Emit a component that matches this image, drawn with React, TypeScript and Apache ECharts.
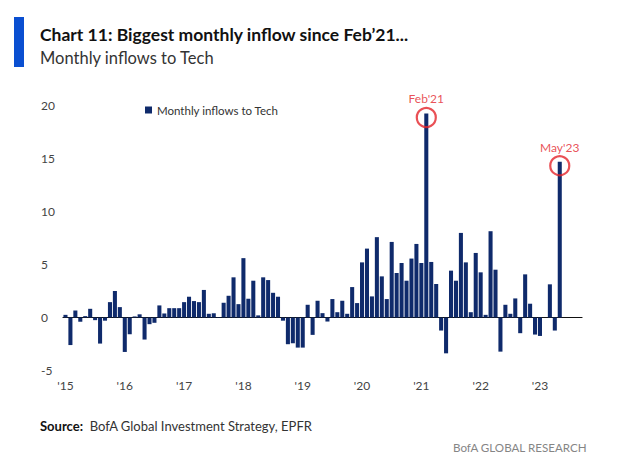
import React, { useEffect, useRef } from 'react';
import * as echarts from 'echarts';

// Monthly inflows to Tech ($bn), Jan 2015 - May 2023
const flows2015 = [0.25, -2.6, 0.66, -0.4, 0.13, 0.82, -0.25, -2.46, -0.3, 1.45, 2.5, 0.98];
const flows2016 = [-3.25, -1.58, 0.1, 0.3, -2.08, -0.63, -0.5, 1.14, 0.38, 0.88, 0.88, 0.88];
const flows2017 = [1.45, 1.96, 1.55, 1.45, 2.6, 0.35, 0.4, 0.05, 1.39, 2.05, 3.79, 1.26];
const flows2018 = [5.6, 1.77, 3.47, 0.2, 3.79, 3.53, 2.33, 1.96, -0.3, -2.52, -2.43, -2.84];
const flows2019 = [-2.84, 1.2, -1.64, 1.58, 0.41, -0.38, 1.74, 0.5, 1.58, 0.35, 2.87, 1.36];
const flows2020 = [5.2, 6.5, 1.99, 7.58, 3.88, 1.74, 7.13, 4.2, 5.14, 3.47, 5.56, 6.94];
const flows2021 = [5.14, 19.25, 5.24, 3.16, -1.23, -3.38, 4.42, 3.47, 7.98, 5.2, 0.5, 6.09];
const flows2022 = [4.26, 0.25, 8.14, 4.51, -3.22, 1.2, 0.35, 1.8, -1.48, 4.07, 1.3, -1.61];
const flows2023 = [-1.74, 0, 3.13, -1.23, 14.7];

const years = [2015, 2016, 2017, 2018, 2019, 2020, 2021, 2022, 2023];
const flows = [
  ...flows2015, ...flows2016, ...flows2017, ...flows2018, ...flows2019,
  ...flows2020, ...flows2021, ...flows2022, ...flows2023,
];

// axis runs on to Sep 2023
const months: string[] = [];
years.forEach((y) => {
  for (let m = 1; m <= 12; m++) {
    if (y === 2023 && m > 9) break;
    months.push(`${y}-${String(m).padStart(2, '0')}`);
  }
});

const highlights = [
  { month: '2021-02', label: "Feb'21" },
  { month: '2023-05', label: "May'23" },
];

const yTicks = { min: -5, max: 20, interval: 5 };

const NAVY = '#0f2a6b';
const RED = '#e3242b';
const FONT = 'Lato, "Open Sans", sans-serif';

const App: React.FC = () => {
  const chartRef = useRef<HTMLDivElement>(null);

  useEffect(() => {
    if (!chartRef.current) return;
    const chart = echarts.init(chartRef.current, null, { renderer: 'svg' });

    const barData = months.map((m, i) => (i < flows.length ? flows[i] : '-'));
    const circleData = highlights.map((h) => {
      const idx = months.indexOf(h.month);
      return { value: [h.month, flows[idx]], name: h.label };
    });

    chart.setOption({
      animation: false,
      textStyle: { fontFamily: FONT },
      title: [
        {
          text: 'Chart 11: Biggest monthly inflow since Feb’21...',
          left: 35,
          top: 20,
          textStyle: { fontSize: 17.5, fontWeight: 'bold', color: '#111', fontFamily: FONT },
        },
        {
          text: 'Monthly inflows to Tech',
          left: 35,
          top: 44,
          textStyle: { fontSize: 16.5, fontWeight: 'normal', color: '#333', fontFamily: FONT },
        },
        {
          text: '{b|Source:}  BofA Global Investment Strategy, EPFR',
          left: 35,
          top: 414,
          textStyle: {
            fontSize: 13,
            fontWeight: 'normal',
            color: '#333',
            fontFamily: FONT,
            rich: { b: { fontWeight: 'bold', fontSize: 13, color: '#111', fontFamily: FONT } },
          },
        },
        {
          text: 'BofA GLOBAL RESEARCH',
          left: 448,
          top: 436,
          textStyle: { fontSize: 11.6, fontWeight: 'normal', color: '#858585', fontFamily: FONT },
        },
      ],
      graphic: [
        { type: 'rect', left: 14, top: 17, shape: { width: 10, height: 50 }, style: { fill: '#0a4fd1' } },
      ],
      legend: {
        data: ['Monthly inflows to Tech'],
        left: 140,
        top: 99,
        itemWidth: 7,
        itemHeight: 7,
        itemGap: 4,
        icon: 'rect',
        textStyle: { fontSize: 11.5, color: '#333', fontFamily: FONT },
      },
      grid: { left: 63, right: 43, top: 105.5, bottom: 89.5, containLabel: false },
      xAxis: {
        type: 'category',
        data: months,
        boundaryGap: true,
        axisLine: { onZero: true, lineStyle: { color: '#111', width: 1.2 } },
        axisTick: { show: false },
        axisLabel: {
          interval: (idx: number) => idx % 12 === 0,
          formatter: (v: string) => `'${v.slice(2, 4)}`,
          color: '#444',
          fontSize: 12,
          margin: 9,
          fontFamily: FONT,
        },
        splitLine: { show: false },
      },
      yAxis: {
        type: 'value',
        ...yTicks,
        axisLine: { show: false },
        axisTick: { show: false },
        splitLine: { show: false },
        axisLabel: { color: '#444', fontSize: 12, align: 'left', margin: 22, fontFamily: FONT },
      },
      series: [
        {
          name: 'Monthly inflows to Tech',
          type: 'bar',
          data: barData,
          barCategoryGap: '18%',
          itemStyle: { color: NAVY },
        },
        {
          name: 'highlight',
          type: 'scatter',
          data: circleData,
          symbol: 'circle',
          symbolSize: 19,
          symbolOffset: [0, 4],
          itemStyle: { color: 'rgba(0,0,0,0)', borderColor: RED, borderWidth: 2.2 },
          label: {
            show: true,
            position: 'top',
            distance: 2,
            formatter: (p: any) => p.name,
            color: RED,
            fontSize: 12,
            fontFamily: FONT,
          },
          z: 5,
        },
      ],
    });

    return () => chart.dispose();
  }, []);

  return (
    <div
      ref={chartRef}
      style={{ position: 'absolute', left: 0, top: 0, width: 625, height: 460, background: '#fff' }}
    />
  );
};

export default App;
